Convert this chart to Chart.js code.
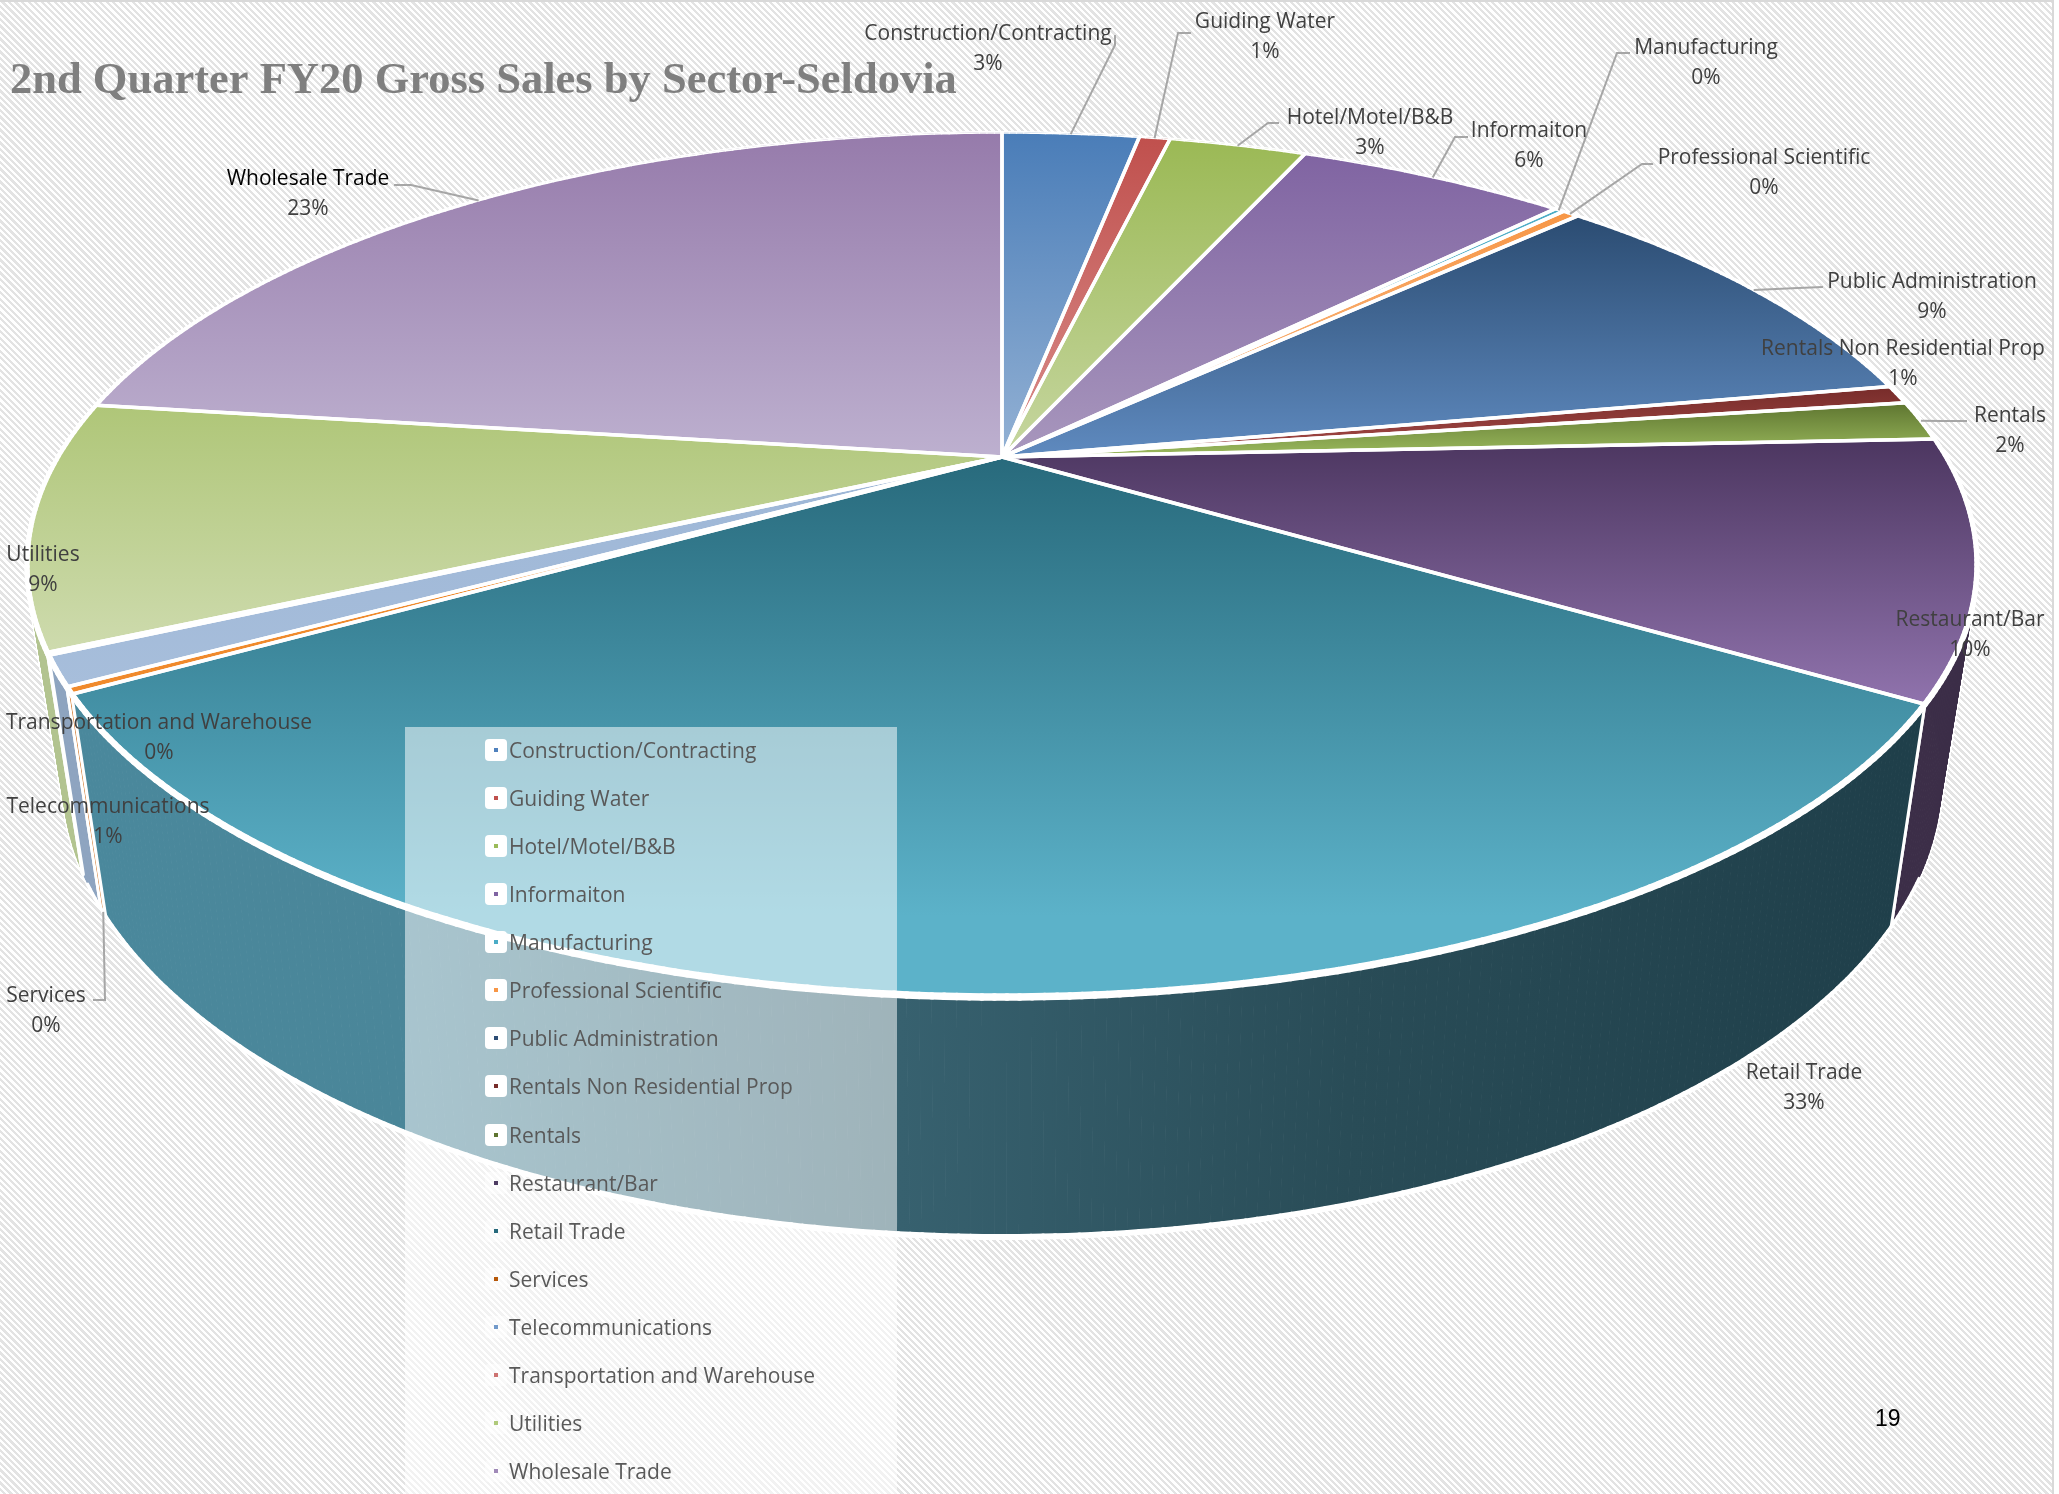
<!DOCTYPE html>
<html lang="en">
<head>
  <meta charset="UTF-8">
  <title>2nd Quarter FY20 Gross Sales by Sector-Seldovia</title>
  <style>
    * { margin: 0; padding: 0; box-sizing: border-box; }
    body {
      width: 2059px;
      height: 1494px;
      position: relative;
      overflow: hidden;
      background: #ffffff;
    }
    #sheet {
      position: absolute;
      left: 0;
      top: 0;
      width: 2054px;
      height: 1494px;
      border-top: 2px solid #d9d9d9;
      border-right: 2px solid #d9d9d9;
      background: repeating-linear-gradient(45deg, #ffffff 0, #ffffff 2.3px, #e3e3e3 2.3px, #e3e3e3 4.6px);
    }
    canvas { position: absolute; left: 0; top: 0; }
    #legend {
      position: absolute;
      left: 405px;
      top: 727px;
      width: 492px;
      height: 767px;
      background: rgba(255, 255, 255, 0.52);
      font: 21px "Open Sans", sans-serif;
      color: #595959;
    }
    #legend .item { position: absolute; left: 80px; height: 22px; line-height: 22px; white-space: nowrap; }
    #legend .key {
      position: absolute; left: 0; top: 0; width: 22px; height: 22px;
      border-radius: 4px; background: #ffffff;
    }
    #legend .key i { position: absolute; left: 9px; top: 9px; width: 4px; height: 4px; }
    #legend .text { margin-left: 24px; }
    #page { position: absolute; left: 1875px; top: 1405px; font: 23px "Liberation Sans", sans-serif; color: #000; }
  </style>
  <script src="https://cdnjs.cloudflare.com/ajax/libs/Chart.js/4.4.1/chart.umd.min.js"></script>
</head>
<body>
  <div id="sheet"></div>
  <canvas id="pie" width="2059" height="1494"></canvas>
  <div id="legend"></div>
  <div id="page">19</div>

  <script>
    const categories = ['Construction/Contracting', 'Guiding Water', 'Hotel/Motel/B&B', 'Informaiton', 'Manufacturing',
      'Professional Scientific', 'Public Administration', 'Rentals Non Residential Prop', 'Rentals', 'Restaurant/Bar',
      'Retail Trade', 'Services', 'Telecommunications', 'Transportation and Warehouse', 'Utilities', 'Wholesale Trade'];
    const shares = [2.9, 0.65, 2.9, 5.7, 0.2, 0.35, 9.4, 0.7, 1.5, 9.6, 32.6, 0.25, 1.1, 0.1, 9.2, 22.9];
    const percentLabels = ['3%', '1%', '3%', '6%', '0%', '0%', '9%', '1%', '2%', '10%', '33%', '0%', '1%', '0%', '9%', '23%'];

    // gradient of each slice, far edge to near edge
    const farColors = ['#4a7db8', '#c0504d', '#9bb955', '#8064a2', '#4bacc6', '#f79646', '#2b4c72', '#772c2a',
      '#5e7530', '#4c3660', '#286a7c', '#f08a2c', '#9db6d6', '#d99694', '#afc678', '#967bab'];
    const nearColors = ['#93b1d4', '#d98e8c', '#c6d6a0', '#a897bd', '#92cddc', '#fac090', '#5f8abf', '#a84b48',
      '#9cbb5e', '#9073ad', '#5cb2c9', '#f08a2c', '#a7bedb', '#e6b9b8', '#cedbae', '#bdb0cf'];
    const wallColors = ['#3a6aa0', '#a04340', '#7f9a45', '#6a5387', '#3a8ea5', '#cc7a30', '#3a5f90', '#6a2725',
      '#6a8238', '#3c2e48', '#4a889c', '#d07020', '#8ea4c0', '#c08080', '#b3c490', '#7f6a94'];
    const legendDots = ['#4f81bd', '#c0504d', '#9bbb59', '#8064a2', '#4bacc6', '#f79646', '#2c4d75', '#772c2a',
      '#5f7530', '#4d3b62', '#276a7c', '#b65708', '#729aca', '#cd7371', '#afc97a', '#a08ab8'];
    const labelColors = { 'Wholesale Trade': '#000000' };

    // label centres and leader elbows, page pixels
    const labelCentres = [[988, 34], [1265, 22], [1370, 118], [1529, 131], [1706, 48], [1764, 158], [1932, 282], [1903, 349],
      [2010, 416], [1970, 620], [1804, 1073], [46, 996], [108, 807], [159, 723], [43, 555], [308, 179]];
    const leaderElbows = [
      [[1115, 35], [1115, 45]], [[1191, 33], [1178, 33]], [[1279, 123], [1268, 123]], [[1468, 137], [1455, 137]],
      [[1630, 53], [1617, 53]], [[1653, 164], [1642, 164]], [[1823, 287], [1798, 288]], null,
      [[1967, 421], [1942, 421]], null, null, [[93, 1000], [105, 1000]], null, null, null, [[394, 185], [411, 185]]];

    // perspective projection of the pie disc onto the page
    const APEX = { x: 1002, y: 457 };
    const TILT = 0.25;
    const TOP_FACE = { a: 944, b: 405, c: 0 };
    const BOTTOM_FACE = { a: 909.5, b: 378, c: 207 };

    function project(angle, face) {
      const u = Math.cos(angle), v = Math.sin(angle), w = 1 - TILT * v;
      return { x: APEX.x + face.a * u / w, y: APEX.y + (face.b * v + face.c) / w };
    }

    function rimPoints(start, end, face) {
      const pts = [];
      const steps = Math.max(2, Math.ceil((end - start) / 0.01));
      for (let i = 0; i <= steps; i++) pts.push(project(start + (end - start) * i / steps, face));
      return pts;
    }

    function tracePolygon(ctx, pts) {
      ctx.beginPath();
      pts.forEach((p, i) => i ? ctx.lineTo(p.x, p.y) : ctx.moveTo(p.x, p.y));
      ctx.closePath();
    }

    function strokeSegment(ctx, a, b) {
      ctx.beginPath();
      ctx.moveTo(a.x, a.y);
      ctx.lineTo(b.x, b.y);
      ctx.stroke();
    }

    // the wall of a slice as thin quads, so its outline follows the tangent between both rims
    function forEachWallQuad(arc, fn) {
      const upper = rimPoints(arc.startAngle, arc.endAngle, TOP_FACE);
      const lower = rimPoints(arc.startAngle, arc.endAngle, BOTTOM_FACE);
      for (let k = 1; k < upper.length; k++) fn([upper[k - 1], upper[k], lower[k], lower[k - 1]]);
    }

    function wallFill(ctx, i) {
      if (categories[i] !== 'Retail Trade') return wallColors[i];
      const g = ctx.createLinearGradient(100, 0, 1900, 0);
      g.addColorStop(0, '#4a889c');
      g.addColorStop(0.167, '#4a8699');
      g.addColorStop(0.444, '#37616f');
      g.addColorStop(0.694, '#294c57');
      g.addColorStop(1, '#1f3f4a');
      return g;
    }

    function drawWalls(ctx, arcs) {
      // white halo round the whole body
      ctx.strokeStyle = '#ffffff';
      ctx.lineWidth = 4;
      arcs.forEach(arc => forEachWallQuad(arc, q => { tracePolygon(ctx, q); ctx.stroke(); }));

      // far slices first
      const order = arcs.map((a, i) => i).sort((p, q) =>
        Math.sin((arcs[p].startAngle + arcs[p].endAngle) / 2) - Math.sin((arcs[q].startAngle + arcs[q].endAngle) / 2));
      order.forEach(i => {
        const fill = wallFill(ctx, i);
        ctx.fillStyle = fill;
        ctx.strokeStyle = fill;
        ctx.lineWidth = 1;
        forEachWallQuad(arcs[i], q => { tracePolygon(ctx, q); ctx.fill(); ctx.stroke(); });
        // seams between slices
        ctx.strokeStyle = '#ffffff';
        ctx.lineWidth = 3;
        strokeSegment(ctx, project(arcs[i].startAngle, TOP_FACE), project(arcs[i].startAngle, BOTTOM_FACE));
        strokeSegment(ctx, project(arcs[i].endAngle, TOP_FACE), project(arcs[i].endAngle, BOTTOM_FACE));
      });

      // lower rim, only where it is in sight
      ctx.strokeStyle = '#ffffff';
      arcs.forEach(arc => {
        const lower = rimPoints(arc.startAngle, arc.endAngle, BOTTOM_FACE);
        const step = (arc.endAngle - arc.startAngle) / (lower.length - 1);
        for (let k = 1; k < lower.length; k++) {
          const v = Math.sin(arc.startAngle + step * k);
          if (v < 0.45) continue;
          ctx.lineWidth = 6 * v;
          strokeSegment(ctx, lower[k - 1], lower[k]);
        }
      });
    }

    function drawTops(ctx, arcs) {
      arcs.forEach((arc, i) => {
        const rim = rimPoints(arc.startAngle, arc.endAngle, TOP_FACE);
        const pts = [{ x: APEX.x, y: APEX.y }].concat(rim);
        const ys = pts.map(p => p.y);
        const g = ctx.createLinearGradient(0, Math.min(...ys), 0, Math.max(...ys));
        g.addColorStop(0, farColors[i]);
        g.addColorStop(categories[i] === 'Retail Trade' ? 0.85 : 1, nearColors[i]);
        tracePolygon(ctx, pts);
        ctx.fillStyle = g;
        ctx.fill();
      });
      // white seams: even width along the radii, widening towards the viewer on the rim
      ctx.strokeStyle = '#ffffff';
      arcs.forEach(arc => {
        const rim = rimPoints(arc.startAngle, arc.endAngle, TOP_FACE);
        ctx.lineWidth = 3.5;
        ctx.beginPath();
        ctx.moveTo(rim[0].x, rim[0].y);
        ctx.lineTo(APEX.x, APEX.y);
        ctx.lineTo(rim[rim.length - 1].x, rim[rim.length - 1].y);
        ctx.stroke();
        const step = (arc.endAngle - arc.startAngle) / (rim.length - 1);
        for (let k = 1; k < rim.length; k++) {
          ctx.lineWidth = 1.5 + 3 * (Math.sin(arc.startAngle + step * k) + 1);
          strokeSegment(ctx, rim[k - 1], rim[k]);
        }
      });
    }

    function drawLabels(ctx, arcs) {
      ctx.strokeStyle = '#a6a6a6';
      ctx.lineWidth = 2;
      leaderElbows.forEach((elbow, i) => {
        if (!elbow) return;
        const mid = (arcs[i].startAngle + arcs[i].endAngle) / 2;
        const end = project(mid, categories[i] === 'Services' ? BOTTOM_FACE : TOP_FACE);
        ctx.beginPath();
        ctx.moveTo(elbow[0][0], elbow[0][1]);
        ctx.lineTo(elbow[1][0], elbow[1][1]);
        ctx.lineTo(end.x, end.y);
        ctx.stroke();
      });
      ctx.font = '21px "Open Sans", sans-serif';
      ctx.textAlign = 'center';
      ctx.textBaseline = 'middle';
      categories.forEach((name, i) => {
        const [x, y] = labelCentres[i];
        ctx.fillStyle = labelColors[name] || '#404040';
        ctx.fillText(name, x, y);
        ctx.fillStyle = '#404040';
        ctx.fillText(percentLabels[i], x, y + 30);
      });
    }

    const perspectivePie = {
      id: 'perspectivePie',
      beforeDatasetsDraw(chart) {
        const arcs = chart.getDatasetMeta(0).data;
        chart.ctx.save();
        chart.ctx.lineJoin = 'round';
        chart.ctx.lineCap = 'round';
        drawWalls(chart.ctx, arcs);
        drawTops(chart.ctx, arcs);
        chart.ctx.restore();
        return false;
      },
      afterDraw(chart) {
        chart.ctx.save();
        drawLabels(chart.ctx, chart.getDatasetMeta(0).data);
        chart.ctx.restore();
      }
    };

    new Chart(document.getElementById('pie'), {
      type: 'pie',
      data: {
        labels: categories,
        datasets: [{ data: shares, backgroundColor: farColors, borderColor: '#ffffff', borderWidth: 4 }]
      },
      options: {
        responsive: false,
        animation: false,
        devicePixelRatio: 1,
        layout: { padding: { left: 10 } },
        plugins: {
          legend: { display: false },
          tooltip: { enabled: false },
          title: {
            display: true,
            text: '2nd Quarter FY20 Gross Sales by Sector-Seldovia',
            align: 'start',
            color: '#7f7f7f',
            font: { family: '"Liberation Serif", serif', size: 44.5, weight: 'bold' },
            padding: { top: 55, bottom: 0 }
          }
        }
      },
      plugins: [perspectivePie]
    });

    // legend column
    const legend = document.getElementById('legend');
    categories.forEach((name, i) => {
      const item = document.createElement('div');
      item.className = 'item';
      item.style.top = (12 + i * 48.07) + 'px';
      const key = document.createElement('span');
      key.className = 'key';
      if (i > 8) key.style.background = 'rgba(255,255,255,0.5)';
      const dot = document.createElement('i');
      dot.style.background = legendDots[i];
      key.appendChild(dot);
      const text = document.createElement('span');
      text.className = 'text';
      text.textContent = name;
      item.appendChild(key);
      item.appendChild(text);
      legend.appendChild(item);
    });
  </script>
</body>
</html>
